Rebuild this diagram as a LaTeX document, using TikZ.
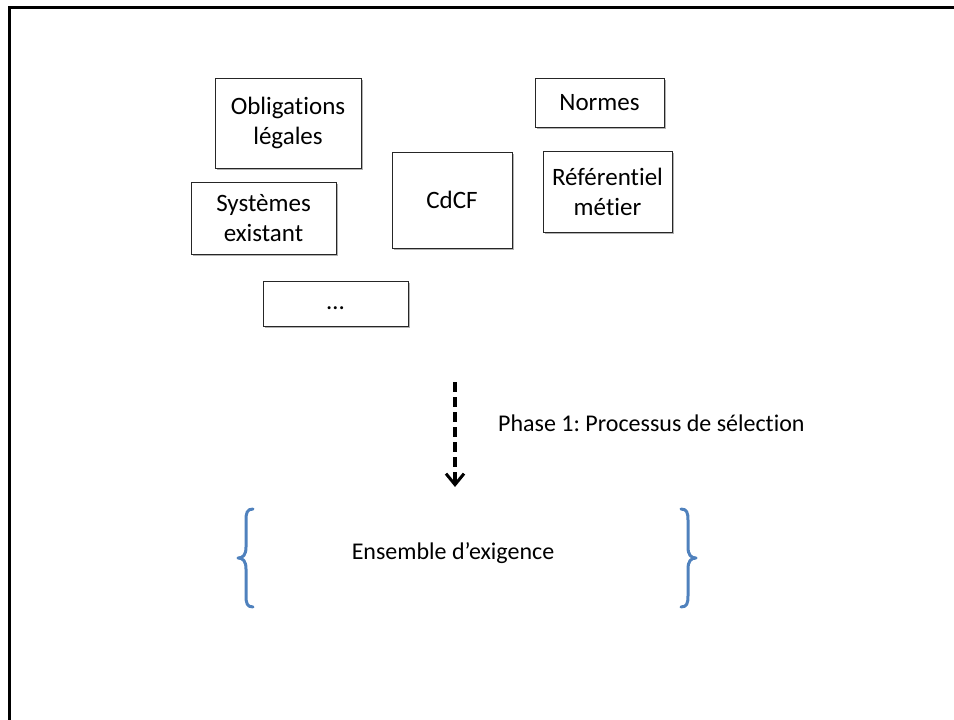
\documentclass[tikz,border=0pt]{standalone}
\usepackage{fontspec}
\setmainfont{Carlito}[Ligatures=NoCommon]
\frenchspacing
\usetikzlibrary{arrows.meta,shadows}

\definecolor{braceblue}{HTML}{4F81BD}

\tikzset{
  source/.style={draw=black!85, line width=0.9pt, fill=white, inner sep=0pt,
    align=center, font=\fontsize{25}{30}\selectfont,
    drop shadow={shadow xshift=2pt, shadow yshift=-2pt, opacity=0.3, fill=black}},
  label/.style={inner sep=0pt, font=\fontsize{24}{29}\selectfont},
  flow/.style={line width=4pt, dash pattern=on 10pt off 5pt,
    -{Straight Barb[length=11pt, width=18pt, line width=3pt]}},
  curly/.style={draw=braceblue, line width=3pt, line cap=round, line join=round}
}

\begin{document}
\begin{tikzpicture}[x=1pt, y=-1pt]
  \useasboundingbox (0,0) rectangle (954,720);
  \clip (0,0) rectangle (954,720);

  % slide frame, running off the right and bottom edges
  \draw[line width=3pt] (9,7) rectangle (980,760);

  % sources of requirements
  \node[source, minimum width=146pt, minimum height=90pt] (oblig) at (288,123) {Obligations\\légales};
  \node[source, minimum width=145pt, minimum height=72pt] (sys) at (263.5,218) {Systèmes\\existant};
  \node[source, minimum width=145pt, minimum height=45pt] (etc) at (335.5,303.5) {\smash{\raisebox{-6pt}{…}}};
  \node[source, minimum width=120pt, minimum height=96pt] (cdcf) at (452,200) {CdCF};
  \node[source, minimum width=129pt, minimum height=49pt] (normes) at (599.5,102.5) {Normes};
  \node[source, minimum width=129pt, minimum height=81pt] (metier) at (607.5,191.5) {Référentiel\\métier};

  % selection step
  \coordinate (from) at (455,382);
  \coordinate (to) at (455,487);
  \draw[flow] (from) -- (to);
  \node[label, anchor=west] (phase) at (498,423) {Phase 1: Processus de sélection};

  % resulting set
  \node[label] (ens) at (453,553) {Ensemble d’exigence};
  \draw[curly] (253,509) .. controls (247,509) and (246,513) .. (246,520)
    -- (246,547) .. controls (246,555) and (243,558) .. (238,558)
    .. controls (243,558) and (246,561) .. (246,569)
    -- (246,596) .. controls (246,603) and (247,607) .. (253,607);
  \draw[curly] (681,509) .. controls (687,509) and (688,513) .. (688,520)
    -- (688,547) .. controls (688,555) and (691,558) .. (696,558)
    .. controls (691,558) and (688,561) .. (688,569)
    -- (688,596) .. controls (688,603) and (687,607) .. (681,607);
\end{tikzpicture}
\end{document}
